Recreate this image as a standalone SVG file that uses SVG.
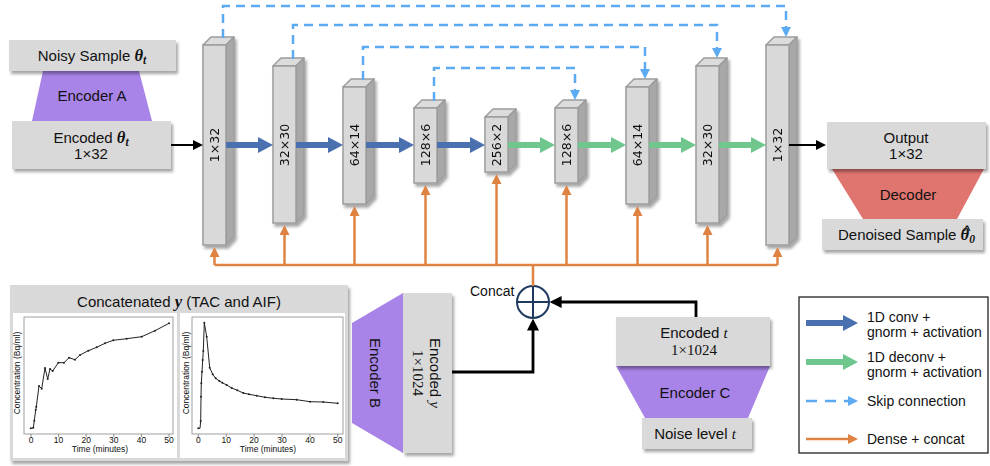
<svg xmlns="http://www.w3.org/2000/svg" width="990" height="466" viewBox="0 0 990 466">
<defs>
<style>
text{font-family:"Liberation Sans",Arial,sans-serif;fill:#111}
.t15{font-size:15px}
.t14{font-size:14px}
.math{font-family:"Liberation Serif","Times New Roman",serif;font-weight:bold;font-style:italic}
.th{font-size:16.5px}
.it{font-family:"Liberation Serif","Times New Roman",serif;font-style:italic}
.ser{font-family:"Liberation Serif","Times New Roman",serif}
.blk{font-family:"DejaVu Sans",Verdana,sans-serif;font-size:12.5px;text-anchor:middle}
.box{fill:#d9d9d9}
.front{fill:#d9d9d9;stroke:#9c9c9c;stroke-width:1.5}
.top{fill:#dcdcdc;stroke:#9c9c9c;stroke-width:1.5;stroke-linejoin:round}
.side{fill:#a8a8a8;stroke:#9c9c9c;stroke-width:1.5;stroke-linejoin:round}
.purple{fill:#a984e8}
.blue{stroke:#4a70b0;stroke-width:6;fill:none}
.green{stroke:#6fc78e;stroke-width:6;fill:none}
.skip{stroke:#5caaf2;stroke-width:2.5;fill:none;stroke-dasharray:9 6}
.orange{stroke:#df8342;stroke-width:2.5;fill:none}
.black{stroke:#000;stroke-width:2;fill:none}
.black3{stroke:#000;stroke-width:2.8;fill:none}
.ax{font-size:8.5px;fill:#333}
.curve{stroke:#222;stroke-width:1;fill:none;stroke-linejoin:round}
</style>
<filter id="sh" x="-20%" y="-20%" width="150%" height="150%">
<feDropShadow dx="2" dy="3" stdDeviation="1.6" flood-color="#000" flood-opacity="0.35"/>
</filter>
<marker id="mBlue" viewBox="0 0 15 16" refX="5" refY="8" markerWidth="15" markerHeight="16" markerUnits="userSpaceOnUse" orient="auto"><path d="M0,0 L15,8 L0,16 z" fill="#4a70b0"/></marker>
<marker id="mGreen" viewBox="0 0 15 16" refX="5" refY="8" markerWidth="15" markerHeight="16" markerUnits="userSpaceOnUse" orient="auto"><path d="M0,0 L15,8 L0,16 z" fill="#6fc78e"/></marker>
<marker id="mSkip" viewBox="0 0 10 10" refX="3" refY="5" markerWidth="10" markerHeight="10" markerUnits="userSpaceOnUse" orient="auto"><path d="M0,0 L10,5 L0,10 z" fill="#5caaf2"/></marker>
<marker id="mOr" viewBox="0 0 10 10" refX="3" refY="5" markerWidth="10" markerHeight="10" markerUnits="userSpaceOnUse" orient="auto"><path d="M0,0 L10,5 L0,10 z" fill="#df8342"/></marker>
<marker id="mK" viewBox="0 0 10 10" refX="3" refY="5" markerWidth="10" markerHeight="10" markerUnits="userSpaceOnUse" orient="auto"><path d="M0,0 L10,5 L0,10 z" fill="#000"/></marker>
<marker id="mK2" viewBox="0 0 10 10" refX="3" refY="5" markerWidth="12" markerHeight="12" markerUnits="userSpaceOnUse" orient="auto"><path d="M0,0 L10,5 L0,10 z" fill="#000"/></marker>
</defs>
<rect width="990" height="466" fill="#fff"/>

<!-- Input encoder A -->
<g id="encoderA">
<polygon class="purple" points="43,71 139,71 152,121 32,121"/>
<text class="t15" x="92" y="101" text-anchor="middle">Encoder A</text>
</g>
<g id="noisySample">
<rect class="box" x="9" y="40" width="167" height="31" filter="url(#sh)"/>
<text class="t15" x="92" y="61" text-anchor="middle">Noisy Sample <tspan class="math th">θ</tspan><tspan class="math" font-size="11.5" dy="3">t</tspan></text>
</g>
<g id="encodedTheta">
<rect class="box" x="12" y="121" width="159" height="48" filter="url(#sh)"/>
<text class="t15" x="91" y="143" text-anchor="middle">Encoded <tspan class="math th">θ</tspan><tspan class="math" font-size="11.5" dy="3">t</tspan></text>
<text class="t15" x="91" y="159" text-anchor="middle">1×32</text>
</g>

<!-- U-Net blocks -->
<g id="b1" filter="url(#sh)"><polygon class="top" points="203,45 211,37 234,37 226,45"/><polygon class="side" points="226,45 234,37 234,237 226,245"/><rect class="front" x="203" y="45" width="23" height="200"/><text class="blk" transform="translate(214.5,145) rotate(-90)" y="4.5">1×32</text></g>
<g id="b2" filter="url(#sh)"><polygon class="top" points="273,66 281,58 304,58 296,66"/><polygon class="side" points="296,66 304,58 304,215 296,223"/><rect class="front" x="273" y="66" width="23" height="157"/><text class="blk" transform="translate(284.5,145) rotate(-90)" y="4.5">32×30</text></g>
<g id="b3" filter="url(#sh)"><polygon class="top" points="343,87 351,79 374,79 366,87"/><polygon class="side" points="366,87 374,79 374,196 366,204"/><rect class="front" x="343" y="87" width="23" height="117"/><text class="blk" transform="translate(354.5,145) rotate(-90)" y="4.5">64×14</text></g>
<g id="b4" filter="url(#sh)"><polygon class="top" points="414,108 422,100 445,100 437,108"/><polygon class="side" points="437,108 445,100 445,175 437,183"/><rect class="front" x="414" y="108" width="23" height="75"/><text class="blk" transform="translate(425.5,145) rotate(-90)" y="4.5">128×6</text></g>
<g id="b5" filter="url(#sh)"><polygon class="top" points="485,117 493,109 516,109 508,117"/><polygon class="side" points="508,117 516,109 516,164 508,172"/><rect class="front" x="485" y="117" width="23" height="55"/><text class="blk" transform="translate(496.5,145) rotate(-90)" y="4.5">256×2</text></g>
<g id="b6" filter="url(#sh)"><polygon class="top" points="555,108 563,100 586,100 578,108"/><polygon class="side" points="578,108 586,100 586,175 578,183"/><rect class="front" x="555" y="108" width="23" height="75"/><text class="blk" transform="translate(566.5,145) rotate(-90)" y="4.5">128×6</text></g>
<g id="b7" filter="url(#sh)"><polygon class="top" points="626,87 634,79 657,79 649,87"/><polygon class="side" points="649,87 657,79 657,196 649,204"/><rect class="front" x="626" y="87" width="23" height="117"/><text class="blk" transform="translate(637.5,145) rotate(-90)" y="4.5">64×14</text></g>
<g id="b8" filter="url(#sh)"><polygon class="top" points="696,66 704,58 727,58 719,66"/><polygon class="side" points="719,66 727,58 727,215 719,223"/><rect class="front" x="696" y="66" width="23" height="157"/><text class="blk" transform="translate(707.5,145) rotate(-90)" y="4.5">32×30</text></g>
<g id="b9" filter="url(#sh)"><polygon class="top" points="766,45 774,37 797,37 789,45"/><polygon class="side" points="789,45 797,37 797,237 789,245"/><rect class="front" x="766" y="45" width="23" height="200"/><text class="blk" transform="translate(777.5,145) rotate(-90)" y="4.5">1×32</text></g>

<!-- Output / decoder -->
<g id="decoder">
<polygon fill="#e0756f" points="832,169 984,169 957,219 863,219"/>
<text class="t15" x="908" y="200" text-anchor="middle">Decoder</text>
</g>
<g id="output">
<rect class="box" x="827" y="122" width="159" height="47" filter="url(#sh)"/>
<text class="t15" x="906" y="143" text-anchor="middle">Output</text>
<text class="t15" x="906" y="159" text-anchor="middle">1×32</text>
</g>
<g id="denoised">
<rect class="box" x="822" y="219" width="161" height="31" filter="url(#sh)"/>
<text class="t15" x="838" y="240">Denoised Sample <tspan class="math th">θ</tspan><tspan class="math" font-style="normal" font-size="11.5" dy="3">0</tspan><tspan x="963.5" y="233.5" font-size="12" font-weight="bold">^</tspan></text>
</g>

<!-- Chart panel -->
<g id="yPanel">
<rect class="box" x="10" y="285" width="338" height="176" filter="url(#sh)"/>
<text class="t15" x="179" y="307" text-anchor="middle">Concatenated <tspan class="math th">y</tspan> (TAC and AIF)</text>
<rect x="13" y="313" width="164" height="145" fill="#fff"/>
<rect x="180" y="313" width="165" height="145" fill="#fff"/>
<rect x="24" y="317" width="149" height="117" fill="none" stroke="#888" stroke-width="0.8"/>
<rect x="192" y="317" width="151" height="117" fill="none" stroke="#888" stroke-width="0.8"/>
<g stroke="#666" stroke-width="0.7">
<path d="M31,434v3M58.6,434v3M86.2,434v3M113.8,434v3M141.4,434v3M169,434v3"/>
<path d="M198.3,434v3M226.2,434v3M254.1,434v3M282,434v3M309.9,434v3M337.7,434v3"/>
</g>
<g class="ax" text-anchor="middle">
<text x="31" y="443">0</text><text x="58.6" y="443">10</text><text x="86.2" y="443">20</text><text x="113.8" y="443">30</text><text x="141.4" y="443">40</text><text x="169" y="443">50</text>
<text x="198.3" y="443">0</text><text x="226.2" y="443">10</text><text x="254.1" y="443">20</text><text x="282" y="443">30</text><text x="309.9" y="443">40</text><text x="337.7" y="443">50</text>
<text x="100" y="452">Time (minutes)</text>
<text x="268" y="452">Time (minutes)</text>
<text transform="translate(20,373) rotate(-90)">Concentration (Bq/ml)</text>
<text transform="translate(189,373) rotate(-90)">Concentration (Bq/ml)</text>
</g>
<polyline class="curve" points="30.7,428.3 31.7,428.3 33.3,427.7 34.3,420.7 35.7,410 36.3,406.7 39,386 41.7,388.7 45,368 47.7,379 50,369 52.7,371 58.3,362.7 64,362.7 69,357.7 75,359.7 80,355 88.3,350.7 96.7,347.3 105,343.3 113.3,340.3 126.7,338.7 141.7,336.7 155,330.7 169,323.3"/>
<polyline class="curve" points="198.3,428.3 200,428.3 200.7,421 201,396.7 201.3,383.3 202,371.7 202.7,360 203.3,351 204.3,322.7 206.7,336.7 209.7,367.7 212.7,374.3 215.7,378.3 219.3,381 222.3,382.7 226.7,385 231.7,388 237.3,390.3 243.3,393 249,394.3 256.7,395.7 265,397.3 273.3,398.3 281.7,399 296.7,399.7 310,401.7 323.3,402 337.7,403.3"/>
<g fill="#222">
<circle cx="30.7" cy="428.3" r="1"/><circle cx="33.3" cy="427.7" r="1"/><circle cx="34.3" cy="420.7" r="1"/><circle cx="35.7" cy="410" r="1"/><circle cx="36.3" cy="406.7" r="1"/><circle cx="39" cy="386" r="1"/><circle cx="41.7" cy="388.7" r="1"/><circle cx="45" cy="368" r="1"/><circle cx="47.7" cy="379" r="1"/><circle cx="50" cy="369" r="1"/><circle cx="52.7" cy="371" r="1"/><circle cx="58.3" cy="362.7" r="1"/><circle cx="64" cy="362.7" r="1"/><circle cx="69" cy="357.7" r="1"/><circle cx="75" cy="359.7" r="1"/><circle cx="80" cy="355" r="1"/><circle cx="88.3" cy="350.7" r="1"/><circle cx="96.7" cy="347.3" r="1"/><circle cx="105" cy="343.3" r="1"/><circle cx="113.3" cy="340.3" r="1"/><circle cx="126.7" cy="338.7" r="1"/><circle cx="141.7" cy="336.7" r="1"/><circle cx="155" cy="330.7" r="1"/><circle cx="169" cy="323.3" r="1"/>
<circle cx="198.3" cy="428.3" r="1"/><circle cx="200.7" cy="421" r="1"/><circle cx="201" cy="396.7" r="1"/><circle cx="201.3" cy="383.3" r="1"/><circle cx="202" cy="371.7" r="1"/><circle cx="202.7" cy="360" r="1"/><circle cx="203.3" cy="351" r="1"/><circle cx="204.3" cy="322.7" r="1"/><circle cx="206.7" cy="336.7" r="1"/><circle cx="209.7" cy="367.7" r="1"/><circle cx="212.7" cy="374.3" r="1"/><circle cx="215.7" cy="378.3" r="1"/><circle cx="219.3" cy="381" r="1"/><circle cx="222.3" cy="382.7" r="1"/><circle cx="226.7" cy="385" r="1"/><circle cx="231.7" cy="388" r="1"/><circle cx="237.3" cy="390.3" r="1"/><circle cx="243.3" cy="393" r="1"/><circle cx="249" cy="394.3" r="1"/><circle cx="256.7" cy="395.7" r="1"/><circle cx="265" cy="397.3" r="1"/><circle cx="273.3" cy="398.3" r="1"/><circle cx="281.7" cy="399" r="1"/><circle cx="296.7" cy="399.7" r="1"/><circle cx="310" cy="401.7" r="1"/><circle cx="323.3" cy="402" r="1"/><circle cx="337.7" cy="403.3" r="1"/>
</g>
</g>

<!-- Encoder B -->
<g id="encoderB">
<polygon class="purple" points="352,323 403,293 403,453 352,423"/>
<text class="t15" transform="translate(375,373) rotate(90)" y="5" text-anchor="middle">Encoder B</text>
</g>
<g id="encodedY">
<rect class="box" x="403" y="293" width="49" height="160" filter="url(#sh)"/>
<text class="t15" transform="translate(428,373) rotate(90)" y="-2" text-anchor="middle">Encoded <tspan class="it">y</tspan></text>
<text class="t15 ser" transform="translate(428,373) rotate(90)" y="15" text-anchor="middle">1×1024</text>
</g>

<!-- Encoder C -->
<g id="encoderC">
<polygon class="purple" points="616,366 770,366 748,418 645,418"/>
<text class="t15" x="695" y="398" text-anchor="middle">Encoder C</text>
</g>
<g id="encodedT">
<rect class="box" x="616" y="317" width="154" height="49" filter="url(#sh)"/>
<text class="t15" x="694" y="338" text-anchor="middle">Encoded <tspan class="it">t</tspan></text>
<text class="t15 ser" x="694" y="355" text-anchor="middle">1×1024</text>
</g>
<g id="noiseLevel">
<rect class="box" x="642" y="418" width="110" height="31" filter="url(#sh)"/>
<text class="t15" x="695" y="439" text-anchor="middle">Noise level <tspan class="it">t</tspan></text>
</g>

<!-- Concat -->
<g id="concat">
<circle cx="533" cy="302" r="16" fill="#fff" stroke="#1f3a60" stroke-width="2"/>
<path d="M517,302H549M533,286V318" stroke="#1f3a60" stroke-width="2"/>
<text class="t14" x="470" y="296">Concat</text>
</g>

<!-- Connectors -->
<g id="connectors">
<path class="black" d="M171,145H196" marker-end="url(#mK)"/>
<path class="black" d="M789,145H819" marker-end="url(#mK)"/>
<path class="blue" d="M226,145H263" marker-end="url(#mBlue)"/>
<path class="blue" d="M296,145H333" marker-end="url(#mBlue)"/>
<path class="blue" d="M366,145H404" marker-end="url(#mBlue)"/>
<path class="blue" d="M437,145H475" marker-end="url(#mBlue)"/>
<path class="green" d="M508,145H545" marker-end="url(#mGreen)"/>
<path class="green" d="M578,145H616" marker-end="url(#mGreen)"/>
<path class="green" d="M649,145H686" marker-end="url(#mGreen)"/>
<path class="green" d="M719,145H756" marker-end="url(#mGreen)"/>
<path class="skip" d="M223,38V6H786V30" marker-end="url(#mSkip)"/>
<path class="skip" d="M293,59V25H717V51" marker-end="url(#mSkip)"/>
<path class="skip" d="M363,80V47H645V72" marker-end="url(#mSkip)"/>
<path class="skip" d="M434,101V68H575V93" marker-end="url(#mSkip)"/>
<path class="orange" d="M214.5,265H777.5M533,265V286"/>
<path class="orange" d="M214.5,265V254" marker-end="url(#mOr)"/>
<path class="orange" d="M284.5,265V232" marker-end="url(#mOr)"/>
<path class="orange" d="M354.5,265V213" marker-end="url(#mOr)"/>
<path class="orange" d="M425.5,265V192" marker-end="url(#mOr)"/>
<path class="orange" d="M496.5,265V181" marker-end="url(#mOr)"/>
<path class="orange" d="M566.5,265V192" marker-end="url(#mOr)"/>
<path class="orange" d="M637.5,265V213" marker-end="url(#mOr)"/>
<path class="orange" d="M707.5,265V232" marker-end="url(#mOr)"/>
<path class="orange" d="M777.5,265V254" marker-end="url(#mOr)"/>
<path class="black3" d="M696,317V302H558" marker-end="url(#mK2)"/>
<path class="black3" d="M452,372H533V327" marker-end="url(#mK2)"/>
</g>

<!-- Legend -->
<g id="legend">
<rect x="799" y="297" width="189" height="156" fill="#fff" stroke="#222" stroke-width="1.3"/>
<path class="blue" d="M806,323H848" marker-end="url(#mBlue)"/>
<path class="green" d="M806,362H848" marker-end="url(#mGreen)"/>
<path class="skip" d="M806,401H851" style="stroke-dasharray:11 8" marker-end="url(#mSkip)"/>
<path class="orange" d="M806,439H851" marker-end="url(#mOr)"/>
<text class="t14" x="867" y="322">1D conv +</text>
<text class="t14" x="867" y="337">gnorm + activation</text>
<text class="t14" x="867" y="362">1D deconv +</text>
<text class="t14" x="867" y="377">gnorm + activation</text>
<text class="t14" x="867" y="406">Skip connection</text>
<text class="t14" x="867" y="444">Dense + concat</text>
</g>
</svg>
